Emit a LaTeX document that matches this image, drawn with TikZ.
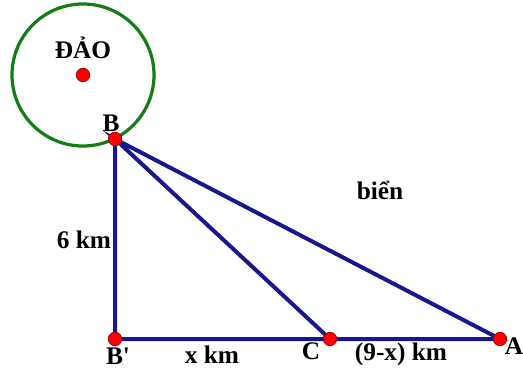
\documentclass[tikz,border=0pt]{standalone}
\usepackage{fontspec}
\setmainfont{Liberation Serif}
\begin{document}
\begin{tikzpicture}[x=0.75pt,y=-0.75pt,
  seg/.style={draw=segblue,line width=3pt,line cap=round},
  pt/.style={circle,fill=red,draw=red!60!black,line width=0.6pt,inner sep=0pt,minimum size=10pt},
  lbl/.style={font=\fontsize{19}{21}\selectfont\bfseries,text=black,inner sep=0pt}]
\definecolor{segblue}{RGB}{24,24,140}
\definecolor{isle}{RGB}{20,125,20}
\useasboundingbox (0,0) rectangle (523,370);
\node[circle,draw=isle,line width=2.4pt,minimum size=142*0.75pt,inner sep=0pt] (island) at (83,75) {};
\coordinate (O) at (83,75);
\coordinate (B) at (115,139);
\coordinate (Bp) at (115,339);
\coordinate (C) at (330,339);
\coordinate (A) at (500,339);
\draw[seg] (B) -- (Bp) -- (A) -- (B) -- (C);
\node[pt] (o) at (O) {};
\node[pt] (b) at (B) {};
\node[pt] (bp) at (Bp) {};
\node[pt] (c) at (C) {};
\node[pt] (a) at (A) {};
\node[lbl] at (83,48) {ĐẢO};
\node[lbl] at (111,123) {B};
\node[lbl] at (380,190) {biển};
\node[lbl] at (84,240) {6 km};
\node[lbl] at (118,356) {B\textquotesingle};
\node[lbl] at (212,355) {x km};
\node[lbl] at (311,351) {C};
\node[lbl] at (401,354) {(9-x) km};
\node[lbl,anchor=west] at (504.5,346) {A};
\end{tikzpicture}
\end{document}
